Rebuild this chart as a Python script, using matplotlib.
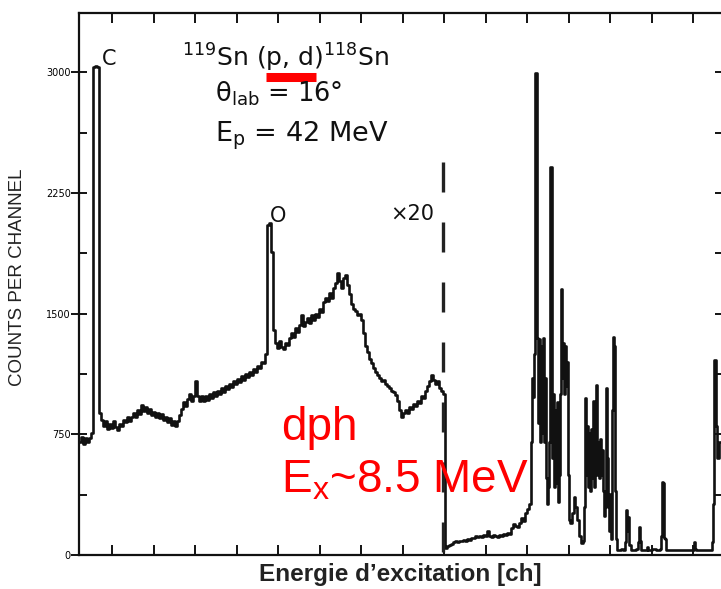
import numpy as np
import matplotlib
matplotlib.use("Agg")
import matplotlib.pyplot as plt
from matplotlib.ticker import FixedLocator, NullFormatter
from matplotlib.lines import Line2D

plt.rcParams['mathtext.default'] = 'regular'
plt.rcParams['lines.scale_dashes'] = False

# ---------------- data ----------------
# counts per channel, full scale, every 2 channels from channel 0
raw_step = 2
raw_counts = [
    700, 735, 690, 725, 700, 730, 760, 3030, 3040, 3030,
    880, 840, 800, 830, 780, 815, 790, 830, 795, 775,
    815, 800, 840, 825, 860, 835, 855, 880, 860, 900,
    875, 930, 895, 920, 880, 905, 870, 890, 860, 885,
    850, 875, 840, 860, 825, 850, 810, 835, 800, 830,
    870, 905, 950, 925, 970, 1000, 960, 990, 1080, 985,
    960, 985, 955, 990, 965, 1000, 975, 1010, 990, 1020,
    1000, 1040, 1015, 1050, 1030, 1065, 1045, 1080, 1060, 1095,
    1075, 1110, 1090, 1125, 1105, 1140, 1120, 1155, 1140, 1175,
    1160, 1200, 1190, 1250, 2050, 2060, 1880, 1400, 1320, 1285,
    1330, 1295, 1280, 1320, 1305, 1350, 1380, 1355, 1410, 1385,
    1430, 1490, 1420, 1450, 1470, 1440, 1490, 1460, 1500, 1480,
    1530, 1510, 1570, 1600, 1580, 1625, 1600, 1660, 1690, 1750,
    1700, 1660, 1720, 1740, 1680, 1620, 1560, 1530, 1515, 1490,
    1500, 1460, 1380, 1300, 1260, 1220, 1190, 1165, 1140, 1120,
    1100, 1080, 1090, 1060, 1050, 1040, 1020, 1010, 995, 960,
    900, 855, 880, 900, 885, 920, 905, 940, 925, 960,
    945, 990, 975, 1020, 1050, 1080, 1120, 1090, 1060, 1080,
    1040, 1020, 1000,
]

# x20 expanded part: (channel, displayed counts)
x20_points = [
    (366, 45), (368, 55), (370, 62), (372, 70), (374, 78), (376, 84), (378, 80),
    (380, 90), (382, 86), (384, 95), (386, 90), (388, 100), (390, 96), (392, 108),
    (394, 104), (396, 115), (398, 110), (400, 120), (402, 114), (404, 124),
    (406, 118), (408, 150), (410, 120), (412, 114), (414, 125), (416, 118),
    (418, 112), (420, 124), (422, 118), (424, 130), (426, 124), (428, 136),
    (430, 130), (432, 165), (434, 190), (436, 180), (438, 172), (440, 200),
    (442, 230), (444, 210), (446, 260), (448, 285), (450, 320), (452, 700),
    (453, 1100), (454, 980), (455, 1250), (456, 2995), (457, 2995), (458, 1350),
    (459, 820), (460, 1340), (461, 700), (462, 1300), (463, 760), (464, 1350),
    (465, 700), (466, 1100), (467, 480), (468, 320), (469, 420), (470, 700),
    (471, 2410), (472, 2410), (473, 600), (474, 1000), (475, 420), (476, 900),
    (477, 450), (478, 950), (479, 330), (480, 500), (481, 1000), (482, 1650),
    (483, 1100), (484, 1320), (485, 1000), (486, 1300), (487, 1050), (488, 1200),
    (489, 500), (490, 220), (491, 200), (493, 260), (495, 360), (496, 300),
    (498, 220), (500, 120), (502, 75), (504, 90), (505, 300), (506, 975),
    (507, 500), (508, 800), (509, 420), (510, 760), (511, 400), (512, 780),
    (513, 480), (514, 960), (515, 420), (516, 800), (517, 1055), (518, 500),
    (519, 700), (520, 480), (521, 720), (522, 500), (523, 650), (524, 400),
    (525, 240), (526, 300), (527, 1040), (528, 600), (529, 300), (530, 150),
    (531, 380), (532, 100), (533, 900), (534, 1355), (535, 1300), (536, 400),
    (537, 100), (538, 30), (540, 30), (542, 35), (544, 30), (546, 80),
    (547, 280), (548, 150), (549, 235), (550, 60), (552, 30), (555, 30),
    (557, 40), (559, 80), (560, 175), (561, 90), (562, 30), (566, 30),
    (568, 50), (569, 30), (573, 35), (577, 30), (581, 40), (582, 120),
    (583, 455), (584, 450), (585, 105), (586, 100), (587, 30), (591, 30),
    (596, 30), (601, 30), (614, 30), (615, 80), (616, 40), (617, 30),
    (626, 30), (631, 30), (633, 80), (634, 320), (635, 1210), (636, 1210),
    (637, 800), (638, 600), (640, 700), (643, 700),
]

scale_boundary_channel = 364
scale_boundary_top = 2442
ytick_values = [0, 750, 1500, 2250, 3000]
ytick_labels = ["0", "750", "1500", "2250", "3000"]
yminor_values = [375, 1125, 1875, 2625]
peak_labels = [("C", 23, 3045), ("O", 191, 2070), ("\u00d720", 311, 2082)]

# ---------------- figure ----------------
W, H = 721, 589
fig = plt.figure(figsize=(W / 100, H / 100), dpi=100)
ax = fig.add_axes([79 / W, (H - 555) / H, (722.5 - 79) / W, (555 - 13) / H])

raw_ch = np.arange(len(raw_counts)) * raw_step
x20_ch = [p[0] for p in x20_points]
x20_ct = [p[1] for p in x20_points]
ch = np.concatenate([raw_ch, x20_ch])
ct = np.concatenate([raw_counts, x20_ct])
ax.plot(ch, ct, drawstyle='steps-post', color='#111111', lw=1.9)

ax.plot([scale_boundary_channel, scale_boundary_channel], [scale_boundary_top, 0],
        color='#222222', lw=2.4, dashes=(21.6, 21.6))

ax.set_xlim(0, 643)
ax.set_ylim(0, 3368)

ax.yaxis.set_major_locator(FixedLocator(ytick_values))
ax.set_yticklabels(ytick_labels)
ax.yaxis.set_minor_locator(FixedLocator(yminor_values))
ax.xaxis.set_major_locator(FixedLocator(np.arange(33, 643, 41.5)))
ax.xaxis.set_major_formatter(NullFormatter())
ax.tick_params(axis='y', which='major', direction='inout', length=12, width=1.3,
               labelsize=7, pad=0, right=True)
ax.tick_params(axis='y', which='minor', direction='in', length=6, width=1.3, right=True)
ax.tick_params(axis='x', which='major', direction='in', length=7, width=1.3, top=True)
for s in ax.spines.values():
    s.set_linewidth(1.6)
    s.set_color('#111111')

ax.set_xlabel("Energie d\u2019excitation [ch]", fontfamily='Liberation Sans',
              fontweight='bold', fontsize=17.5, color='#222222')
ax.xaxis.set_label_coords(0.5, -(563 - 555) / 542)
ax.set_ylabel("COUNTS PER CHANNEL", fontfamily='Liberation Sans', fontsize=13.5,
              color='#222222')
ax.yaxis.set_label_coords((26 - 79) / 643.5, (555 - 277) / 542)

for txt, cx, cy in peak_labels:
    ax.text(cx, cy, txt, fontsize=15, ha='left', va='baseline', color='#111111')


def fpos(x, y):
    return x / W, 1 - y / H


fig.text(*fpos(182, 67), r"$^{119}$Sn (p, d)$^{118}$Sn", fontsize=18, va='baseline',
         color='#111111')
fig.text(*fpos(215, 101), r"$\theta_{lab}$ = 16°", fontsize=18.5, va='baseline',
         color='#111111')
fig.text(*fpos(215, 141), r"E$_{p}$ = 42 MeV", fontsize=19.5, va='baseline',
         color='#111111')
fig.add_artist(Line2D([266 / W, 316 / W], [1 - 77 / H, 1 - 77 / H], lw=6.5,
                      color='#ff0000', solid_capstyle='butt', transform=fig.transFigure))

fig.text(*fpos(281, 440), "dph", fontsize=33, fontfamily='Liberation Sans',
         color='#ff0000', va='baseline')
fig.text(*fpos(281, 492), r"E$_{x}$~8.5 MeV", fontsize=33, fontfamily='Liberation Sans',
         color='#ff0000', va='baseline')

fig.savefig("out.png", dpi=100)
